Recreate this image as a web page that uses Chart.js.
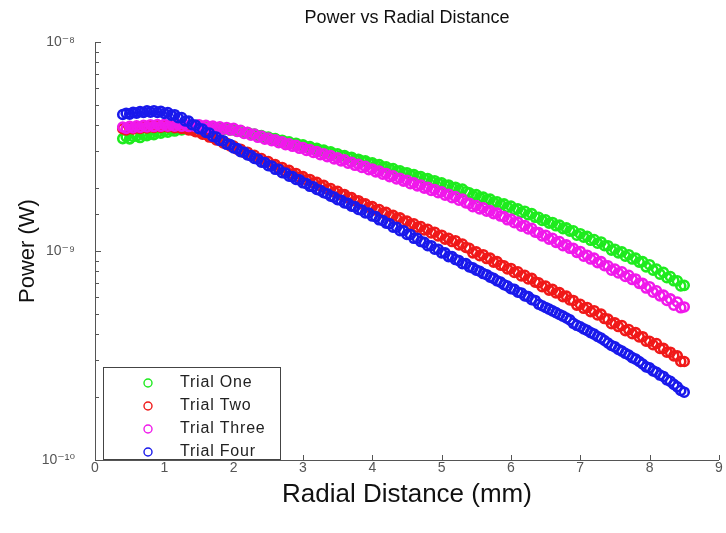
<!DOCTYPE html>
<html>
<head>
<meta charset="utf-8">
<script src="https://cdn.jsdelivr.net/npm/chart.js@4.4.0/dist/chart.umd.min.js"></script>
<style>
  html, body { margin: 0; padding: 0; background: #fff; }
</style>
</head>
<body>
<canvas id="chart" width="726" height="533"></canvas>
<script>
// radial positions (mm) shared by all four trials
const radialMm = [
  0.40, 0.45, 0.50, 0.55, 0.60, 0.65, 0.70, 0.75, 0.80, 0.85,
  0.90, 0.95, 1.00, 1.05, 1.10, 1.15, 1.20, 1.25, 1.30, 1.35,
  1.40, 1.45, 1.50, 1.55, 1.60, 1.65, 1.70, 1.75, 1.80, 1.85,
  1.90, 1.95, 2.00, 2.05, 2.10, 2.15, 2.20, 2.25, 2.30, 2.35,
  2.40, 2.45, 2.50, 2.55, 2.60, 2.65, 2.70, 2.75, 2.80, 2.85,
  2.90, 2.95, 3.00, 3.05, 3.10, 3.15, 3.20, 3.25, 3.30, 3.35,
  3.40, 3.45, 3.50, 3.55, 3.60, 3.65, 3.70, 3.75, 3.80, 3.85,
  3.90, 3.95, 4.00, 4.05, 4.10, 4.15, 4.20, 4.25, 4.30, 4.35,
  4.40, 4.45, 4.50, 4.55, 4.60, 4.65, 4.70, 4.75, 4.80, 4.85,
  4.90, 4.95, 5.00, 5.05, 5.10, 5.15, 5.20, 5.25, 5.30, 5.35,
  5.40, 5.45, 5.50, 5.55, 5.60, 5.65, 5.70, 5.75, 5.80, 5.85,
  5.90, 5.95, 6.00, 6.05, 6.10, 6.15, 6.20, 6.25, 6.30, 6.35,
  6.40, 6.45, 6.50, 6.55, 6.60, 6.65, 6.70, 6.75, 6.80, 6.85,
  6.90, 6.95, 7.00, 7.05, 7.10, 7.15, 7.20, 7.25, 7.30, 7.35,
  7.40, 7.45, 7.50, 7.55, 7.60, 7.65, 7.70, 7.75, 7.80, 7.85,
  7.90, 7.95, 8.00, 8.05, 8.10, 8.15, 8.20, 8.25, 8.30, 8.35,
  8.40, 8.45, 8.50
];

// power in nW (x 1e-9 W), one value per radial position
const trialOne = [
  3.45, 3.52, 3.44, 3.53, 3.55, 3.49, 3.60, 3.56, 3.63, 3.60,
  3.69, 3.66, 3.74, 3.70, 3.79, 3.75, 3.84, 3.80, 3.88, 3.83,
  3.90, 3.86, 3.93, 3.87, 3.91, 3.86, 3.90, 3.84, 3.87, 3.82,
  3.85, 3.79, 3.81, 3.74, 3.76, 3.68, 3.69, 3.62, 3.63, 3.56,
  3.57, 3.50, 3.51, 3.44, 3.45, 3.38, 3.39, 3.32, 3.33, 3.26,
  3.28, 3.20, 3.22, 3.14, 3.16, 3.09, 3.10, 3.03, 3.04, 2.97,
  2.98, 2.91, 2.92, 2.85, 2.86, 2.80, 2.81, 2.74, 2.75, 2.69,
  2.70, 2.63, 2.64, 2.57, 2.59, 2.52, 2.53, 2.47, 2.48, 2.41,
  2.42, 2.36, 2.37, 2.31, 2.32, 2.26, 2.27, 2.21, 2.22, 2.16,
  2.17, 2.11, 2.12, 2.06, 2.07, 2.01, 2.02, 1.96, 1.98, 1.92,
  1.90, 1.84, 1.86, 1.80, 1.81, 1.76, 1.77, 1.71, 1.72, 1.67,
  1.68, 1.62, 1.64, 1.58, 1.59, 1.53, 1.55, 1.49, 1.51, 1.45,
  1.45, 1.40, 1.41, 1.36, 1.37, 1.32, 1.33, 1.28, 1.29, 1.245,
  1.25, 1.19, 1.21, 1.165, 1.175, 1.125, 1.135, 1.09, 1.105, 1.06,
  1.06, 1.01, 1.02, 0.98, 0.99, 0.945, 0.96, 0.915, 0.925, 0.885,
  0.89, 0.84, 0.86, 0.81, 0.82, 0.775, 0.79, 0.745, 0.755, 0.72,
  0.72, 0.68, 0.685
];
const trialTwo = [
  3.85, 3.80, 3.90, 3.84, 3.92, 3.86, 3.94, 3.88, 3.96, 3.90,
  3.97, 3.91, 3.98, 3.92, 3.96, 3.89, 3.93, 3.86, 3.89, 3.80,
  3.80, 3.72, 3.71, 3.62, 3.61, 3.51, 3.50, 3.40, 3.39, 3.29,
  3.28, 3.18, 3.18, 3.07, 3.07, 2.96, 2.97, 2.86, 2.87, 2.77,
  2.77, 2.67, 2.68, 2.58, 2.59, 2.50, 2.51, 2.42, 2.43, 2.34,
  2.35, 2.26, 2.27, 2.19, 2.20, 2.12, 2.13, 2.05, 2.06, 1.98,
  1.99, 1.92, 1.93, 1.86, 1.86, 1.80, 1.80, 1.74, 1.74, 1.68,
  1.68, 1.62, 1.63, 1.57, 1.58, 1.52, 1.53, 1.47, 1.48, 1.43,
  1.44, 1.38, 1.39, 1.34, 1.35, 1.30, 1.31, 1.26, 1.27, 1.22,
  1.23, 1.18, 1.19, 1.14, 1.15, 1.11, 1.12, 1.07, 1.08, 1.04,
  1.03, 0.98, 0.99, 0.95, 0.96, 0.92, 0.925, 0.885, 0.89, 0.855,
  0.85, 0.82, 0.825, 0.79, 0.795, 0.76, 0.765, 0.735, 0.74, 0.71,
  0.705, 0.675, 0.68, 0.65, 0.655, 0.63, 0.632, 0.605, 0.608, 0.583,
  0.58, 0.551, 0.556, 0.532, 0.537, 0.513, 0.518, 0.494, 0.499, 0.475,
  0.472, 0.449, 0.453, 0.435, 0.44, 0.416, 0.421, 0.402, 0.407, 0.388,
  0.389, 0.37, 0.37, 0.356, 0.361, 0.342, 0.342, 0.328, 0.328, 0.315,
  0.315, 0.296, 0.296
];
const trialThree = [
  3.92, 3.86, 3.95, 3.88, 3.97, 3.90, 3.99, 3.92, 4.02, 3.94,
  4.03, 3.95, 4.04, 3.96, 4.04, 3.96, 4.04, 3.95, 4.03, 3.94,
  4.02, 3.94, 4.02, 3.92, 3.99, 3.89, 3.96, 3.86, 3.93, 3.83,
  3.90, 3.79, 3.86, 3.73, 3.78, 3.65, 3.70, 3.58, 3.63, 3.50,
  3.55, 3.43, 3.47, 3.37, 3.40, 3.30, 3.33, 3.23, 3.26, 3.17,
  3.20, 3.10, 3.13, 3.03, 3.06, 2.96, 2.99, 2.89, 2.92, 2.83,
  2.86, 2.76, 2.79, 2.70, 2.73, 2.63, 2.66, 2.57, 2.60, 2.51,
  2.54, 2.45, 2.47, 2.39, 2.41, 2.33, 2.35, 2.27, 2.29, 2.21,
  2.23, 2.16, 2.18, 2.10, 2.12, 2.05, 2.07, 2.00, 2.02, 1.95,
  1.97, 1.90, 1.92, 1.85, 1.87, 1.80, 1.82, 1.75, 1.77, 1.70,
  1.69, 1.63, 1.65, 1.59, 1.61, 1.55, 1.56, 1.51, 1.52, 1.47,
  1.46, 1.41, 1.42, 1.365, 1.375, 1.315, 1.325, 1.275, 1.285, 1.23,
  1.225, 1.18, 1.19, 1.14, 1.15, 1.10, 1.11, 1.06, 1.07, 1.03,
  1.03, 0.985, 0.995, 0.945, 0.955, 0.915, 0.925, 0.88, 0.89, 0.85,
  0.85, 0.81, 0.82, 0.785, 0.795, 0.755, 0.765, 0.73, 0.735, 0.70,
  0.70, 0.665, 0.675, 0.635, 0.645, 0.61, 0.615, 0.58, 0.59, 0.55,
  0.57, 0.535, 0.54
];
const trialFour = [
  4.50, 4.56, 4.52, 4.61, 4.57, 4.65, 4.60, 4.68, 4.62, 4.69,
  4.60, 4.66, 4.55, 4.60, 4.47, 4.49, 4.34, 4.35, 4.19, 4.18,
  4.02, 4.00, 3.85, 3.83, 3.69, 3.67, 3.53, 3.51, 3.38, 3.37,
  3.24, 3.23, 3.11, 3.09, 2.99, 2.97, 2.88, 2.86, 2.77, 2.75,
  2.66, 2.65, 2.56, 2.55, 2.46, 2.46, 2.37, 2.36, 2.28, 2.27,
  2.20, 2.19, 2.12, 2.10, 2.04, 2.03, 1.97, 1.95, 1.90, 1.88,
  1.83, 1.81, 1.76, 1.75, 1.70, 1.69, 1.64, 1.63, 1.58, 1.57,
  1.52, 1.52, 1.47, 1.46, 1.41, 1.40, 1.36, 1.35, 1.30, 1.30,
  1.25, 1.25, 1.20, 1.20, 1.15, 1.15, 1.11, 1.10, 1.06, 1.06,
  1.02, 1.02, 0.98, 0.98, 0.94, 0.94, 0.91, 0.90, 0.87, 0.87,
  0.84, 0.83, 0.81, 0.80, 0.78, 0.77, 0.75, 0.74, 0.72, 0.71,
  0.69, 0.68, 0.66, 0.655, 0.635, 0.63, 0.61, 0.605, 0.585, 0.58,
  0.557, 0.547, 0.537, 0.527, 0.517, 0.507, 0.497, 0.488, 0.478, 0.468,
  0.451, 0.441, 0.434, 0.424, 0.417, 0.407, 0.40, 0.39, 0.383, 0.373,
  0.363, 0.353, 0.348, 0.338, 0.332, 0.324, 0.318, 0.309, 0.304, 0.296,
  0.288, 0.279, 0.276, 0.267, 0.263, 0.255, 0.251, 0.242, 0.238, 0.23,
  0.224, 0.215, 0.211
];

const seriesNames = ['Trial One', 'Trial Two', 'Trial Three', 'Trial Four'];
const seriesValues = [trialOne, trialTwo, trialThree, trialFour];
const seriesColors = ['rgb(30,235,30)', 'rgb(240,25,25)', 'rgb(240,25,235)', 'rgb(25,25,235)'];
const decadeLabels = { '-10': '10⁻¹⁰', '-9': '10⁻⁹', '-8': '10⁻⁸' };

const FONT = "'Liberation Sans', Arial, 'DejaVu Sans', sans-serif";
const PLOT_BOTTOM = 460;

const datasets = seriesNames.map((name, k) => ({
  label: name,
  data: radialMm.map((x, i) => ({ x: x, y: seriesValues[k][i] * 1e-9 })),
  borderColor: seriesColors[k],
  backgroundColor: 'rgba(0,0,0,0)',
  pointStyle: 'circle',
  pointRadius: 4.5,
  pointBorderWidth: 2.6,
  showLine: false,
  order: 4 - k // later trials drawn on top, like matlab
}));

function isDecade(v) {
  const l = Math.log10(v);
  return Math.abs(l - Math.round(l)) < 1e-6;
}

// matlab style inward tick marks
const tickMarks = {
  id: 'tickMarks',
  afterDraw(chart) {
    const ctx = chart.ctx;
    const xs = chart.scales.x, ys = chart.scales.y;
    const a = chart.chartArea;
    ctx.save();
    ctx.strokeStyle = '#555';
    ctx.lineWidth = 1;
    ctx.beginPath();
    xs.ticks.forEach(t => {
      const px = Math.round(xs.getPixelForValue(t.value)) + 0.5;
      ctx.moveTo(px, a.bottom);
      ctx.lineTo(px, a.bottom - 5);
    });
    ys.ticks.forEach(t => {
      const py = Math.round(ys.getPixelForValue(t.value)) + 0.5;
      const len = isDecade(t.value) ? 6 : 4;
      ctx.moveTo(a.left, py);
      ctx.lineTo(a.left + len, py);
    });
    ctx.stroke();
    ctx.restore();
  }
};

// title centred over the axes, not the canvas
const axesTitle = {
  id: 'axesTitle',
  afterDraw(chart) {
    const ctx = chart.ctx;
    const a = chart.chartArea;
    ctx.save();
    ctx.fillStyle = '#111';
    ctx.font = '18px ' + FONT;
    ctx.textAlign = 'center';
    ctx.textBaseline = 'middle';
    ctx.fillText('Power vs Radial Distance', (a.left + a.right) / 2, 18);
    ctx.restore();
  }
};

// boxed legend in the lower left corner of the axes
const boxLegend = {
  id: 'boxLegend',
  afterDraw(chart) {
    const ctx = chart.ctx;
    const a = chart.chartArea;
    const left = a.left + 8, right = a.left + 185;
    const bottom = a.bottom - 1, top = a.bottom - 93;
    ctx.save();
    ctx.fillStyle = '#fff';
    ctx.fillRect(left, top, right - left, bottom - top);
    ctx.strokeStyle = '#444';
    ctx.lineWidth = 1;
    ctx.strokeRect(left + 0.5, top + 0.5, right - left, bottom - top);
    ctx.font = '16px ' + FONT;
    ctx.letterSpacing = '0.8px';
    ctx.textBaseline = 'middle';
    chart.data.datasets.forEach((ds, i) => {
      const y = top + 16 + i * 23;
      ctx.beginPath();
      ctx.strokeStyle = ds.borderColor;
      ctx.lineWidth = 1.4;
      ctx.arc(left + 45, y, 4, 0, Math.PI * 2);
      ctx.stroke();
      ctx.fillStyle = '#222';
      ctx.fillText(ds.label, left + 77, y);
    });
    ctx.restore();
  }
};

new Chart(document.getElementById('chart'), {
  type: 'scatter',
  data: { datasets: datasets },
  options: {
    responsive: false,
    animation: false,
    layout: { padding: { top: 42, right: 5, left: 0, bottom: 0 } },
    plugins: {
      legend: { display: false },
      tooltip: { enabled: false }
    },
    scales: {
      x: {
        type: 'linear',
        min: 0,
        max: 9,
        afterFit: s => { s.height = 533 - PLOT_BOTTOM; },
        ticks: { stepSize: 1, color: '#555', font: { family: FONT, size: 14 }, padding: 0 },
        grid: { display: false, drawTicks: false },
        border: { display: true, color: '#555', width: 1 },
        title: { display: true, text: 'Radial Distance (mm)', color: '#111', font: { family: FONT, size: 26 }, padding: { top: 0, bottom: 23 } }
      },
      y: {
        type: 'logarithmic',
        min: 1e-10,
        max: 1e-8,
        afterFit: s => { s.width = 95; },
        ticks: {
          autoSkip: false,
          color: '#555',
          padding: 20,
          font: { family: FONT, size: 14 },
          callback: v => isDecade(v) ? decadeLabels[String(Math.round(Math.log10(v)))] : ''
        },
        grid: { display: false, drawTicks: false },
        border: { display: true, color: '#555', width: 1 },
        title: { display: true, text: 'Power (W)', color: '#111', font: { family: FONT, size: 22 }, padding: { top: 15, bottom: 15 } }
      }
    }
  },
  plugins: [tickMarks, axesTitle, boxLegend]
});
</script>
</body>
</html>
